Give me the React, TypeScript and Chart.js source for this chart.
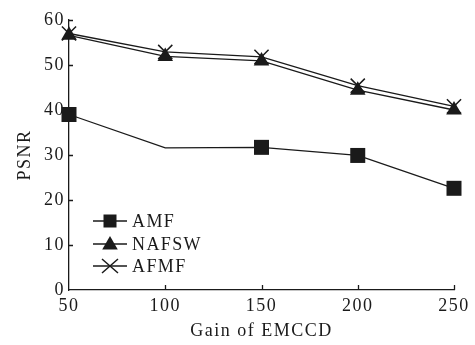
import React, { useEffect, useRef } from "react";
import { Chart, registerables } from "chart.js";

Chart.register(...registerables);

const gains = [50, 100, 150, 200, 250];
const amf = [39.0, 31.6, 31.7, 29.9, 22.6];
const nafsw = [56.6, 51.9, 50.9, 44.4, 40.0];
const afmf = [57.0, 52.9, 51.8, 45.4, 40.8];
const amfMarkerShown = [true, false, true, true, true];
const seriesNames = ["AMF", "NAFSW", "AFMF"];
const xTicks = [50, 100, 150, 200, 250];
const yTicks = [0, 10, 20, 30, 40, 50, 60];

const INK = "#1a1a1a";
const FONT = '"Liberation Serif", "Times New Roman", serif';

function drawMarker(ctx: CanvasRenderingContext2D, style: string, x: number, y: number) {
  ctx.save();
  ctx.fillStyle = INK;
  ctx.strokeStyle = INK;
  ctx.lineWidth = 1.5;
  if (style === "rect") {
    const s = 6.5;
    ctx.fillRect(x - s, y - s, 2 * s, 2 * s);
  } else if (style === "triangle") {
    const r = 9;
    ctx.beginPath();
    ctx.moveTo(x, y - r + 1);
    ctx.lineTo(x + r * Math.sin((2 * Math.PI) / 3), y - r * Math.cos((2 * Math.PI) / 3) + 1);
    ctx.lineTo(x + r * Math.sin((4 * Math.PI) / 3), y - r * Math.cos((4 * Math.PI) / 3) + 1);
    ctx.closePath();
    ctx.fill();
  } else {
    const ox = 8;
    const oy = 7;
    ctx.beginPath();
    ctx.moveTo(x - ox, y - oy);
    ctx.lineTo(x + ox, y + oy);
    ctx.moveTo(x + ox, y - oy);
    ctx.lineTo(x - ox, y + oy);
    ctx.stroke();
  }
  ctx.restore();
}

const decorPlugin = {
  id: "decor",
  beforeDraw(chart: any) {
    (chart.ctx as any).letterSpacing = "1.5px";
  },
  afterDraw(chart: any) {
    const ctx: CanvasRenderingContext2D = chart.ctx;
    const { left, bottom } = chart.chartArea;
    const xs = chart.scales.x;
    const ys = chart.scales.y;
    ctx.save();
    ctx.strokeStyle = INK;
    ctx.lineWidth = 1.3;
    ctx.beginPath();
    yTicks.forEach((v) => {
      if (v === 0) return;
      const py = Math.round(ys.getPixelForValue(v)) + 0.5;
      ctx.moveTo(left, py);
      ctx.lineTo(left + 4, py);
    });
    xTicks.forEach((v) => {
      if (v === 50) return;
      const px = Math.round(xs.getPixelForValue(v)) + 0.5;
      ctx.moveTo(px, bottom);
      ctx.lineTo(px, bottom - 5);
    });
    ctx.stroke();

    // legend
    const styles = ["rect", "triangle", "crossRot"];
    const rowOffsets = [69, 46, 24];
    seriesNames.forEach((name, i) => {
      const y = bottom - rowOffsets[i];
      ctx.beginPath();
      ctx.strokeStyle = INK;
      ctx.lineWidth = 1.3;
      ctx.moveTo(left + 24, y);
      ctx.lineTo(left + 58, y);
      ctx.stroke();
      drawMarker(ctx, styles[i], left + 41, y);
      ctx.fillStyle = INK;
      ctx.font = `18px ${FONT}`;
      (ctx as any).letterSpacing = "1.4px";
      ctx.textAlign = "left";
      ctx.textBaseline = "middle";
      ctx.fillText(name, left + 63, y + 1);
    });
    ctx.restore();
  },
};

export default function App() {
  const canvasRef = useRef<HTMLCanvasElement | null>(null);

  useEffect(() => {
    const canvas = canvasRef.current;
    if (!canvas) return;
    const toXY = (arr: number[]) => arr.map((v, i) => ({ x: gains[i], y: v }));
    const chart = new Chart(canvas, {
      type: "line",
      data: {
        datasets: [
          {
            label: seriesNames[0],
            data: toXY(amf),
            borderColor: INK,
            backgroundColor: INK,
            borderWidth: 1.3,
            pointStyle: "rect",
            pointRadius: amfMarkerShown.map((s) => (s ? 10.6 : 0)),
            pointBackgroundColor: INK,
            pointBorderColor: INK,
            pointBorderWidth: 0,
            tension: 0,
            clip: false as any,
          },
          {
            label: seriesNames[1],
            data: toXY(nafsw),
            borderColor: INK,
            backgroundColor: INK,
            borderWidth: 1.3,
            pointStyle: "triangle",
            pointRadius: 9,
            pointBackgroundColor: INK,
            pointBorderColor: INK,
            pointBorderWidth: 0,
            tension: 0,
            clip: false as any,
          },
          {
            label: seriesNames[2],
            data: toXY(afmf),
            borderColor: INK,
            backgroundColor: INK,
            borderWidth: 1.3,
            pointStyle: "crossRot",
            pointRadius: 10,
            pointBackgroundColor: INK,
            pointBorderColor: INK,
            pointBorderWidth: 1.5,
            tension: 0,
            clip: false as any,
          },
        ],
      },
      options: {
        responsive: false,
        animation: false,
        devicePixelRatio: 1,
        layout: { padding: { left: 0, top: 20, right: 21, bottom: 0 } },
        plugins: {
          legend: { display: false },
          tooltip: { enabled: false },
        },
        scales: {
          x: {
            type: "linear",
            min: 50,
            max: 250,
            afterFit: (s: any) => {
              s.height = 55;
            },
            afterBuildTicks: (s: any) => {
              s.ticks = xTicks.map((v) => ({ value: v }));
            },
            grid: { display: false, drawTicks: false },
            border: { display: true, color: INK, width: 1.3 },
            ticks: {
              color: INK,
              padding: 5,
              maxRotation: 0,
              font: { family: FONT, size: 18 },
            },
            title: {
              display: true,
              text: "Gain of EMCCD",
              color: INK,
              font: { family: FONT, size: 18 },
              padding: { top: 0, bottom: 2.5 },
            },
          },
          y: {
            type: "linear",
            min: 0,
            max: 60,
            afterFit: (s: any) => {
              s.width = 69;
            },
            afterBuildTicks: (s: any) => {
              s.ticks = yTicks.map((v) => ({ value: v }));
            },
            grid: { display: false, drawTicks: false },
            border: { display: true, color: INK, width: 1.3 },
            ticks: {
              color: INK,
              padding: 4,
              font: { family: FONT, size: 18 },
            },
            title: {
              display: true,
              text: "PSNR",
              color: INK,
              font: { family: FONT, size: 18 },
              padding: { top: 14, bottom: 0 },
            },
          },
        },
      },
      plugins: [decorPlugin],
    } as any);
    return () => chart.destroy();
  }, []);

  return (
    <div style={{ position: "absolute", left: 0, top: 0, width: 475, height: 345, background: "#fff" }}>
      <canvas ref={canvasRef} width={475} height={345} />
    </div>
  );
}
